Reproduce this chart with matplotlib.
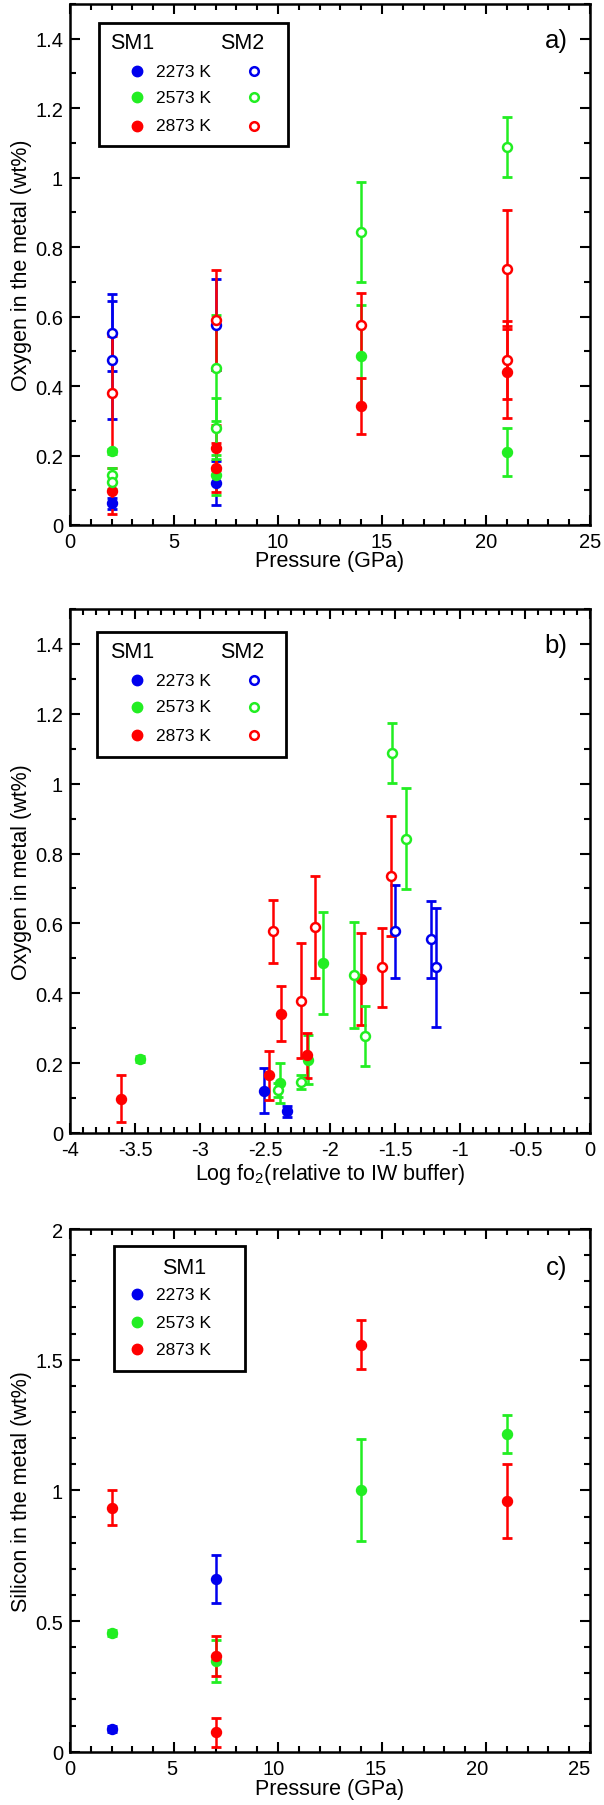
import matplotlib
matplotlib.use("Agg")
import matplotlib.pyplot as plt
from matplotlib.patches import Rectangle
from matplotlib.ticker import MultipleLocator, FuncFormatter
from matplotlib.transforms import ScaledTranslation

plt.rcParams["font.family"] = ["Liberation Sans", "DejaVu Sans"]
plt.rcParams["mathtext.fontset"] = "custom"
plt.rcParams["mathtext.rm"] = "Liberation Sans"
plt.rcParams["mathtext.default"] = "regular"

# ---------------------------------------------------------
# Data
# ---------------------------------------------------------
TEMPS = ["2273 K", "2573 K", "2873 K"]
COLORS = ["#0000ee", "#22ee22", "#ff0000"]

# Oxygen in metal, SM1 (filled symbols)
sm1_2273_p = [2, 7]
sm1_2273_o = [0.062, 0.121]
sm1_2273_err = [0.016, 0.064]
sm1_2273_fo2 = [-2.334, -2.508]

sm1_2573_p = [2, 7, 14, 21]
sm1_2573_o = [0.212, 0.143, 0.487, 0.210]
sm1_2573_err = [0.008, 0.058, 0.145, 0.070]
sm1_2573_fo2 = [-3.459, -2.387, -2.050, -2.171]

sm1_2873_p = [2, 7, 7, 14, 21]
sm1_2873_o = [0.098, 0.222, 0.165, 0.342, 0.440]
sm1_2873_err = [0.067, 0.065, 0.070, 0.080, 0.132]
sm1_2873_fo2 = [-3.604, -2.174, -2.470, -2.375, -1.758]

# Oxygen in metal, SM2 (open symbols)
sm2_2273_p = [2, 2, 7]
sm2_2273_o = [0.554, 0.474, 0.577]
sm2_2273_err = [0.110, 0.170, 0.132]
sm2_2273_fo2 = [-1.220, -1.185, -1.498]

sm2_2573_p = [2, 2, 7, 7, 14, 21]
sm2_2573_o = [0.145, 0.123, 0.452, 0.278, 0.843, 1.088]
sm2_2573_err = [0.020, 0.020, 0.152, 0.087, 0.144, 0.087]
sm2_2573_fo2 = [-2.222, -2.402, -1.814, -1.728, -1.418, -1.521]

sm2_2873_p = [2, 7, 14, 21, 21]
sm2_2873_o = [0.379, 0.590, 0.577, 0.736, 0.474]
sm2_2873_err = [0.165, 0.145, 0.090, 0.172, 0.112]
sm2_2873_fo2 = [-2.222, -2.115, -2.440, -1.533, -1.598]

# Silicon in metal, SM1
si_2273_p = [2, 7]
si_2273 = [0.087, 0.661]
si_2273_err = [0.010, 0.093]

si_2573_p = [2, 7, 14, 21]
si_2573 = [0.454, 0.347, 1.003, 1.216]
si_2573_err = [0.010, 0.080, 0.195, 0.074]

si_2873_p = [2, 7, 7, 14, 21]
si_2873 = [0.934, 0.367, 0.074, 1.558, 0.959]
si_2873_err = [0.066, 0.077, 0.056, 0.093, 0.142]


def fmt_num(v, pos):
    return "{:g}".format(round(v, 3))


def style_axes(ax, xmaj, xmin, ymaj, ymin):
    ax.xaxis.set_major_locator(MultipleLocator(xmaj))
    ax.xaxis.set_minor_locator(MultipleLocator(xmin))
    ax.yaxis.set_major_locator(MultipleLocator(ymaj))
    ax.yaxis.set_minor_locator(MultipleLocator(ymin))
    ax.xaxis.set_major_formatter(FuncFormatter(fmt_num))
    ax.yaxis.set_major_formatter(FuncFormatter(fmt_num))
    ax.tick_params(which="both", direction="in", top=True, right=True, width=1.5, labelsize=14.5)
    ax.tick_params(which="major", length=7, pad=5)
    ax.tick_params(which="minor", length=4)
    for s in ax.spines.values():
        s.set_linewidth(1.8)


def draw_errorbars(ax, series):
    for x, y, err, color, filled in series:
        ax.errorbar(x, y, yerr=err, fmt="none", ecolor=color, elinewidth=1.8,
                    capsize=3.3, capthick=2, zorder=2)


def draw_markers(ax, series):
    for x, y, err, color, filled in series:
        if filled:
            ax.plot(x, y, "o", ms=7.2, mew=1, color=color, mfc=color, zorder=3)
        else:
            ax.plot(x, y, "o", ms=6.4, mew=1.8, color=color, mfc="white", zorder=3)


def draw_legend(ax, box, sm1_x, head_y, rows_y, show_sm2=True):
    x0, y0, x1, y1 = box
    ax.add_patch(Rectangle((x0, y0), x1 - x0, y1 - y0, transform=ax.transAxes,
                           facecolor="white", edgecolor="black", linewidth=2, zorder=5))
    ax.text(sm1_x, head_y, "SM1", transform=ax.transAxes, fontsize=15.5,
            ha="center", va="center", zorder=6)
    if show_sm2:
        ax.text(0.331, head_y, "SM2", transform=ax.transAxes, fontsize=15.5,
                ha="center", va="center", zorder=6)
    for label, color, ry in zip(TEMPS, COLORS, rows_y):
        ax.plot([0.129], [ry], "o", ms=7.5, mew=1, color=color, transform=ax.transAxes,
                zorder=6, clip_on=False)
        ax.text(0.165, ry, label, transform=ax.transAxes, fontsize=12.5,
                ha="left", va="center", zorder=6)
        if show_sm2:
            ax.plot([0.354], [ry], "o", ms=6.2, mew=1.8, color=color, mfc="white",
                    transform=ax.transAxes, zorder=6, clip_on=False)


fig = plt.figure(figsize=(6.04, 18.06), dpi=100)
ax_a = fig.add_axes([0.1159, 0.70875, 0.8609, 0.28848])
ax_b = fig.add_axes([0.1159, 0.3721, 0.8609, 0.2901])
ax_c = fig.add_axes([0.1159, 0.02951, 0.8609, 0.2894])

# ---------------- a) oxygen vs pressure ----------------
series_a = [
    (sm1_2273_p, sm1_2273_o, sm1_2273_err, COLORS[0], True),
    (sm1_2573_p, sm1_2573_o, sm1_2573_err, COLORS[1], True),
    (sm1_2873_p, sm1_2873_o, sm1_2873_err, COLORS[2], True),
    (sm2_2273_p, sm2_2273_o, sm2_2273_err, COLORS[0], False),
    (sm2_2573_p, sm2_2573_o, sm2_2573_err, COLORS[1], False),
    (sm2_2873_p, sm2_2873_o, sm2_2873_err, COLORS[2], False),
]
draw_errorbars(ax_a, series_a)
draw_markers(ax_a, series_a)
ax_a.set_xlim(0, 25)
ax_a.set_ylim(0, 1.5)
style_axes(ax_a, 5, 1, 0.2, 0.1)
ax_a.set_xlabel("Pressure (GPa)", fontsize=15.5)
ax_a.set_ylabel("Oxygen in the metal (wt%)", fontsize=15.5)
ax_a.xaxis.set_label_coords(0.5, -0.048)
ax_a.yaxis.set_label_coords(-0.073, 0.5)
ax_a.text(0.935, 0.9315, "a)", transform=ax_a.transAxes, fontsize=18.5, ha="center", va="center")
draw_legend(ax_a, (0.0558, 0.7274, 0.419, 0.9635), 0.119, 0.927, [0.871, 0.8215, 0.766])

# ---------------- b) oxygen vs fO2 ----------------
series_b = [
    (sm1_2273_fo2, sm1_2273_o, sm1_2273_err, COLORS[0], True),
    (sm1_2573_fo2, sm1_2573_o, sm1_2573_err, COLORS[1], True),
    (sm1_2873_fo2, sm1_2873_o, sm1_2873_err, COLORS[2], True),
    (sm2_2273_fo2, sm2_2273_o, sm2_2273_err, COLORS[0], False),
    (sm2_2573_fo2, sm2_2573_o, sm2_2573_err, COLORS[1], False),
    (sm2_2873_fo2, sm2_2873_o, sm2_2873_err, COLORS[2], False),
]
draw_errorbars(ax_b, series_b)
draw_markers(ax_b, series_b)
ax_b.set_xlim(-4, 0)
ax_b.set_ylim(0, 1.5)
style_axes(ax_b, 0.5, 0.1, 0.2, 0.1)
ax_b.set_xlabel("Log fo$_2$(relative to IW buffer)", fontsize=15.5)
ax_b.set_ylabel("Oxygen in metal (wt%)", fontsize=15.5)
ax_b.xaxis.set_label_coords(0.5, -0.054)
ax_b.yaxis.set_label_coords(-0.073, 0.5)
ax_b.text(0.935, 0.9315, "b)", transform=ax_b.transAxes, fontsize=18.5, ha="center", va="center")
draw_legend(ax_b, (0.051, 0.7179, 0.415, 0.9565), 0.119, 0.919, [0.864, 0.814, 0.759])

# ---------------- c) silicon vs pressure ----------------
series_c = [
    (si_2273_p, si_2273, si_2273_err, COLORS[0], True),
    (si_2573_p, si_2573, si_2573_err, COLORS[1], True),
    (si_2873_p, si_2873, si_2873_err, COLORS[2], True),
]
draw_errorbars(ax_c, series_c)
draw_markers(ax_c, series_c)
ax_c.set_xlim(0, 25)
ax_c.set_ylim(0, 2)
style_axes(ax_c, 5, 1, 0.5, 0.1)
ax_c.set_xlabel("Pressure (GPa)", fontsize=15.5)
ax_c.set_ylabel("Silicon in the metal (wt%)", fontsize=15.5)
ax_c.xaxis.set_label_coords(0.5, -0.051)
ax_c.yaxis.set_label_coords(-0.073, 0.5)
ax_c.text(0.935, 0.928, "c)", transform=ax_c.transAxes, fontsize=18.5, ha="center", va="center")
draw_legend(ax_c, (0.084, 0.7293, 0.337, 0.9667), 0.219, 0.927, [0.8755, 0.822, 0.770],
            show_sm2=False)

# in the original, panel c's pressure labels drift left of their ticks
fig.canvas.draw()
for tick in ax_c.xaxis.get_major_ticks():
    shift = -0.44 * tick.get_loc() / 100.0
    tick.label1.set_transform(tick.label1.get_transform()
                              + ScaledTranslation(shift, 0, fig.dpi_scale_trans))

fig.savefig("out.png", dpi=100)
